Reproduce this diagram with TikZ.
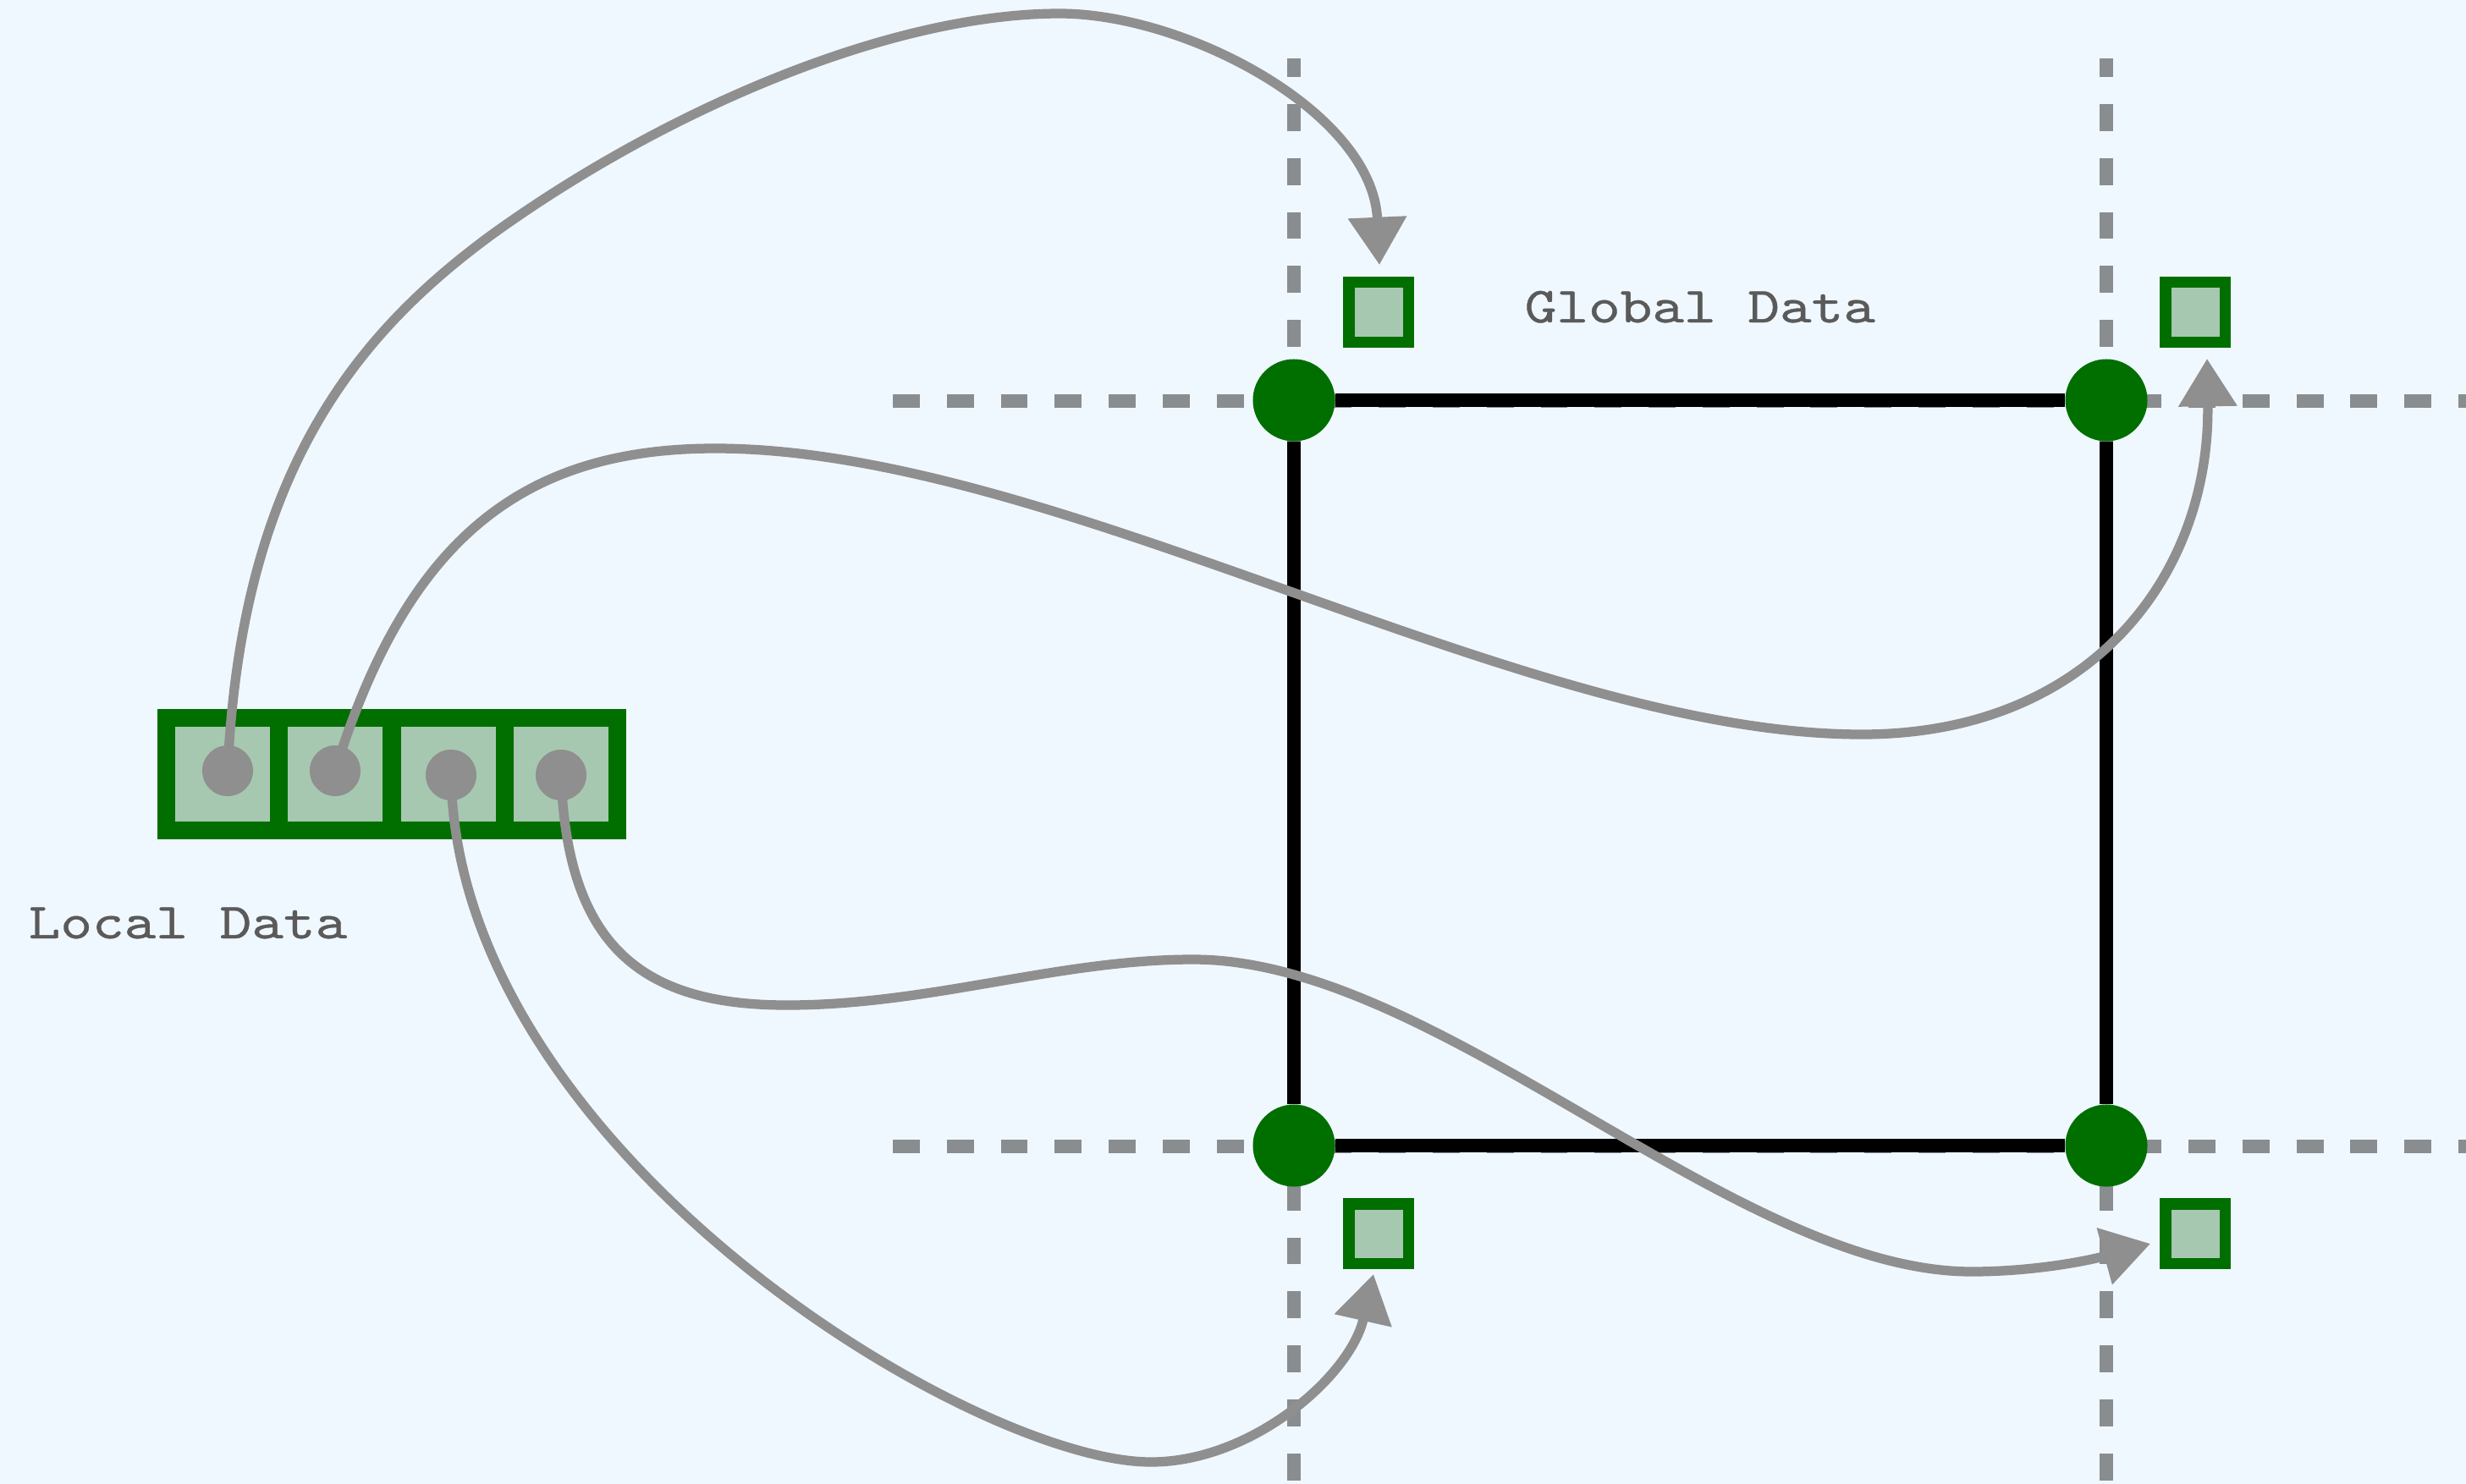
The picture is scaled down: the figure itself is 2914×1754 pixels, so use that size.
\documentclass[tikz,border=0pt]{standalone}
\usetikzlibrary{arrows.meta}

\definecolor{paper}{HTML}{F0F8FF}
\definecolor{gridgray}{HTML}{8A8D8F}
\definecolor{nodegreen}{RGB}{0,111,0}
\definecolor{cellfill}{HTML}{A7C8B0}
\definecolor{pencil}{HTML}{8F8F8F}
\definecolor{labelgray}{HTML}{5A5A5A}

% typewriter face, widened and slightly darkened
\font\labelfont="[lmmono10-regular]:extend=1.2;embolden=0.6" at 17pt

\tikzset{
  gridline/.style={gridgray, line width=4.5pt, dash pattern=on 9.07pt off 9.07pt},
  edge/.style={black, line width=4.6pt},
  vertex/.style={circle, fill=nodegreen, minimum size=0.97cm, inner sep=0pt},
  globalcell/.style={rectangle, draw=nodegreen, fill=cellfill, line width=3.7pt,
    minimum size=0.70cm, inner sep=0pt},
  localcell/.style={rectangle, draw=nodegreen, fill=cellfill, line width=6.2pt,
    minimum size=1.33cm, inner sep=0pt},
  handle/.style={circle, fill=pencil, minimum size=0.6cm, inner sep=0pt},
  flow/.style={pencil, line width=3.2pt, line cap=round, line join=round,
    -{Triangle[length=16pt, width=19pt]}},
  caption/.style={text=labelgray, inner sep=0pt, font=\labelfont},
}

\begin{document}
\begin{tikzpicture}[x=0.01cm, y=-0.01cm]
  % page
  \fill[paper] (0,0) rectangle (2914,1754);
  \useasboundingbox (0,0) rectangle (2914,1754);

  % element boundaries of the mesh
  \draw[gridline, dash phase=2.8pt] (1529,69) -- (1529,1754);
  \draw[gridline, dash phase=2.8pt] (2489,69) -- (2489,1754);
  \draw[gridline] (1055,474) -- (2914,474);
  \draw[gridline] (1055,1355) -- (2914,1355);

  % element corners and edges
  \node[vertex] (v11) at (1529,473) {};
  \node[vertex] (v21) at (2489,473) {};
  \node[vertex] (v12) at (1529,1354) {};
  \node[vertex] (v22) at (2489,1354) {};
  \draw[edge] (v11) -- (v21);
  \draw[edge] (v21) -- (v22);
  \draw[edge] (v22) -- (v12);
  \draw[edge] (v12) -- (v11);

  % global degrees of freedom
  \node[globalcell] (g11) at (1629,369) {};
  \node[globalcell] (g21) at (2594,369) {};
  \node[globalcell] (g12) at (1629,1458) {};
  \node[globalcell] (g22) at (2594,1458) {};

  % local data array
  \node[localcell] (l1) at (263,915) {};
  \node[localcell] (l2) at (396,915) {};
  \node[localcell] (l3) at (530,915) {};
  \node[localcell] (l4) at (663,915) {};

  % labels
  \node[caption, anchor=base west] (glabel) at (1801,381) {Global Data};
  \node[caption, anchor=base west] (llabel) at (33,1109) {Local Data};

  % arrow targets next to the global cells
  \coordinate (t11) at (1630,313);
  \coordinate (t21) at (2608,424);
  \coordinate (t12) at (1623,1506);
  \coordinate (t22) at (2541,1470);

  % start points inside the local cells
  \coordinate (s1) at (269,911);
  \coordinate (s2) at (396,911);
  \coordinate (s3) at (533,916);
  \coordinate (s4) at (663,916);

  % turning points of the arrows
  \coordinate (a1) at (583,276);
  \coordinate (a2) at (1252,16);
  \coordinate (b1) at (845,530);
  \coordinate (b2) at (2200,868);
  \coordinate (c1) at (1360,1728);
  \coordinate (e1) at (930,1188);
  \coordinate (e2) at (1410,1134);
  \coordinate (e3) at (2330,1503);

  % scatter arrows
  \draw[flow] (s1) .. controls (285,560) and (420,395) .. (a1)
                   .. controls (786,130) and (1052,16) .. (a2)
                   .. controls (1402,16) and (1622,133) .. (t11);
  \draw[flow] (s2) .. controls (480,640) and (615,530) .. (b1)
                   .. controls (1250,530) and (1800,868) .. (b2)
                   .. controls (2470,868) and (2612,680) .. (t21);
  \draw[flow] (s3) .. controls (540,1360) and (1150,1728) .. (c1)
                   .. controls (1480,1728) and (1596,1626) .. (t12);
  \draw[flow] (s4) .. controls (670,1120) and (760,1188) .. (e1)
                   .. controls (1100,1188) and (1250,1134) .. (e2)
                   .. controls (1700,1134) and (2050,1503) .. (e3)
                   .. controls (2400,1503) and (2464,1491) .. (t22);

  % arrow handles
  \node[handle] (d1) at (s1) {};
  \node[handle] (d2) at (s2) {};
  \node[handle] (d3) at (s3) {};
  \node[handle] (d4) at (s4) {};
\end{tikzpicture}
\end{document}
